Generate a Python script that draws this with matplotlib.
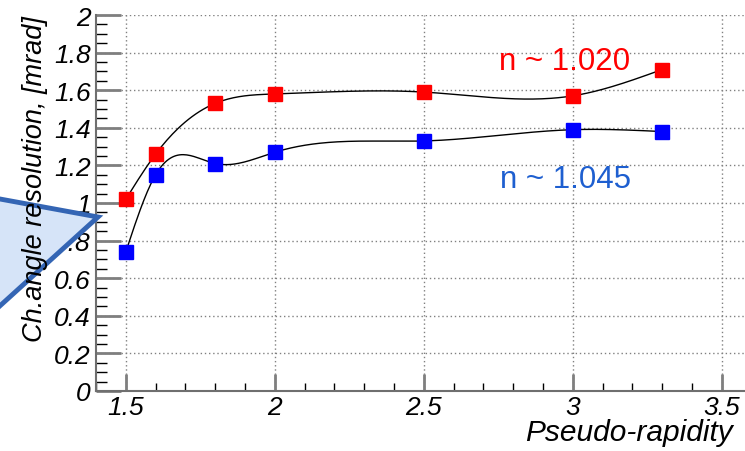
import numpy as np
import matplotlib
matplotlib.use("Agg")
import matplotlib.pyplot as plt
from matplotlib.patches import Polygon
from matplotlib.ticker import MultipleLocator

# data
eta = [1.5, 1.6, 1.8, 2.0, 2.5, 3.0, 3.3]
res_1020 = [1.02, 1.26, 1.53, 1.58, 1.59, 1.57, 1.71]
res_1045 = [0.74, 1.15, 1.21, 1.27, 1.33, 1.39, 1.38]
label_1020 = "n ~ 1.020"
label_1045 = "n ~ 1.045"


def natural_spline(x, y, n=300):
    # smooth curve through the points, like ROOT's "C" draw option
    x = np.asarray(x, float)
    y = np.asarray(y, float)
    k = len(x)
    h = np.diff(x)
    A = np.zeros((k, k))
    b = np.zeros(k)
    A[0, 0] = A[-1, -1] = 1
    for i in range(1, k - 1):
        A[i, i - 1] = h[i - 1]
        A[i, i] = 2 * (h[i - 1] + h[i])
        A[i, i + 1] = h[i]
        b[i] = 6 * ((y[i + 1] - y[i]) / h[i] - (y[i] - y[i - 1]) / h[i - 1])
    M = np.linalg.solve(A, b)
    xs = np.linspace(x[0], x[-1], n)
    idx = np.clip(np.searchsorted(x, xs) - 1, 0, k - 2)
    x0, x1 = x[idx], x[idx + 1]
    hh = x1 - x0
    ys = (M[idx] * (x1 - xs) ** 3 / (6 * hh) + M[idx + 1] * (xs - x0) ** 3 / (6 * hh)
          + (y[idx] / hh - M[idx] * hh / 6) * (x1 - xs)
          + (y[idx + 1] / hh - M[idx + 1] * hh / 6) * (xs - x0))
    return xs, ys


plt.rcParams['font.family'] = ['Liberation Sans', 'DejaVu Sans']

W, H = 745, 452
fig = plt.figure(figsize=(W / 100, H / 100), dpi=100)
ax = fig.add_axes([96 / W, 60 / H, 649 / W, 376 / H])

# light blue triangle on the left side of the figure (left edge off-canvas)
tri = Polygon([[-30 / W, 1 - 194.5 / H], [98 / W, 1 - 218 / H], [-30 / W, 1 - 334 / H]],
              closed=True, transform=fig.transFigure, facecolor="#d6e4f8",
              edgecolor="#3465b4", linewidth=3.5, zorder=0)
fig.patches.append(tri)

for y, col in [(res_1020, "red"), (res_1045, "blue")]:
    xs, ys = natural_spline(eta, y)
    ax.plot(xs, ys, color="black", lw=1.0, zorder=2)
    ax.plot(eta, y, ls="none", marker="s", ms=10, color=col, mec=col, zorder=3)

ax.set_xlim(1.4, 1.4 + 649 / 298)
ax.set_ylim(0, 2)
ax.xaxis.set_minor_locator(MultipleLocator(0.1))
ax.yaxis.set_minor_locator(MultipleLocator(0.05))
ax.set_xticks([1.5, 2, 2.5, 3, 3.5])
ax.set_xticklabels(["1.5", "2", "2.5", "3", "3.5"])
ax.set_yticks(np.round(np.arange(0, 2.01, 0.2), 1))
ax.set_yticklabels(["0", "0.2", "0.4", "0.6", "0.8", "1", "1.2", "1.4", "1.6", "1.8", "2"])

ax.grid(True, which="major", ls=(0, (1, 2)), color="#808080", lw=1)
ax.tick_params(which="major", direction="in", length=18, width=2, color="#7f7f7f",
               labelsize=19, pad=4)
ax.tick_params(axis="x", which="major", length=12, pad=3)
ax.tick_params(which="minor", direction="in", length=8, width=1, color="black")
ax.tick_params(axis="x", which="minor", length=6)
for lab in ax.get_xticklabels() + ax.get_yticklabels():
    lab.set_fontstyle("italic")

for s in ["top", "right"]:
    ax.spines[s].set_visible(False)
for s in ["left", "bottom"]:
    ax.spines[s].set_color("#6f6f6f")
    ax.spines[s].set_linewidth(1.5)

fig.text(733 / W, 1 - 447 / H, "Pseudo-rapidity", fontsize=21.5, fontstyle="italic",
         ha="right", va="bottom")
fig.text(35 / W, 1 - 342 / H, "Ch.angle resolution, [mrad]", rotation=90, fontsize=19.5,
         fontstyle="italic", ha="center", va="bottom", zorder=5)

ax.text(2.974, 1.755, label_1020, color="red", fontsize=22.5,
        ha="center", va="center")
ax.text(2.974, 1.128, label_1045, color="#1e5fd0", fontsize=22.5,
        ha="center", va="center")

fig.savefig("out.png", dpi=100)
